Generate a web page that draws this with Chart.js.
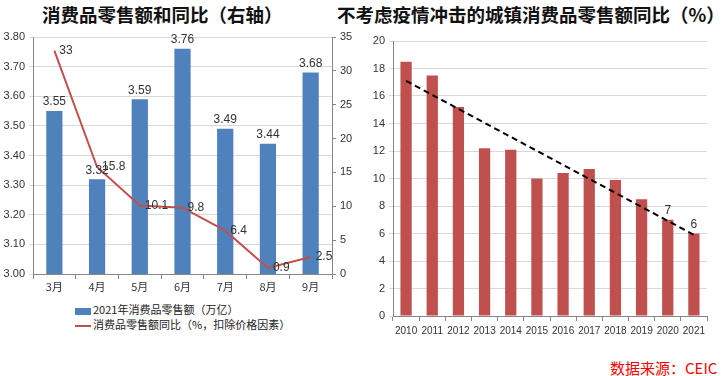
<!DOCTYPE html>
<html>
<head>
<meta charset="utf-8">
<script src="https://cdn.jsdelivr.net/npm/chart.js@4.4.0/dist/chart.umd.min.js"></script>
<style>
  body{margin:0;background:#fff;width:725px;height:376px;overflow:hidden;position:relative;
       font-family:"Liberation Sans","Noto Sans CJK SC",sans-serif;}
  .ttl{position:absolute;top:1px;font-family:"Noto Sans CJK SC",sans-serif;font-weight:bold;font-size:18.5px;color:#111;white-space:nowrap;}
  .box{position:absolute;}
  .leg{position:absolute;left:75px;font-family:"Noto Sans CJK SC",sans-serif;font-size:11px;color:#222;white-space:nowrap;}
  .leg i{display:inline-block;width:16px;vertical-align:middle;margin-right:2px;}
  .src{position:absolute;left:610px;top:357px;font-family:"Noto Sans CJK SC",sans-serif;font-size:15px;color:#ff0000;white-space:nowrap;}
</style>
</head>
<body>
<div class="ttl" style="left:42px">消费品零售额和同比（右轴）</div>
<div class="ttl" style="left:337px">不考虑疫情冲击的城镇消费品零售额同比（%）</div>
<div class="box" style="left:0;top:0;width:360px;height:300px"><canvas id="c1" width="360" height="300"></canvas></div>
<div class="box" style="left:360px;top:0;width:365px;height:340px"><canvas id="c2" width="365" height="340"></canvas></div>
<div class="leg" style="top:301px"><i style="height:7px;background:#4F81BD"></i>2021年消费品零售额（万亿）</div>
<div class="leg" style="top:316px"><i style="height:2px;background:#C0504D"></i>消费品零售额同比（%，扣除价格因素）</div>
<div class="src">数据来源：CEIC</div>
<script>
// 左图：月度消费品零售额（万亿）和同比（%）
const months = ['3月','4月','5月','6月','7月','8月','9月'];
const retail = [3.55, 3.32, 3.59, 3.76, 3.49, 3.44, 3.68];
const retailYoY = [33, 15.8, 10.1, 9.8, 6.4, 0.9, 2.5];

// 右图：城镇消费品零售额同比（%）
const years = ['2010','2011','2012','2013','2014','2015','2016','2017','2018','2019','2020','2021'];
const urbanYoY = [18.5, 17.5, 15.2, 12.2, 12.1, 10.0, 10.4, 10.7, 9.9, 8.5, 7, 6];
const trend = [17.1, null, null, null, null, null, null, null, null, null, null, 5.9];
const urbanLabelled = [false,false,false,false,false,false,false,false,false,false,true,true];

const GRID = '#D9D9D9', AXIS = '#868686', TXT = '#333';
const tickFont = {family:'"Liberation Sans","Noto Sans CJK SC",sans-serif', size:11};

// 数据标签
const valueLabels = {
  id:'valueLabels',
  afterDatasetsDraw(chart){
    const ctx = chart.ctx;
    chart.data.datasets.forEach((ds,i)=>{
      if(!ds.lbl) return;
      const meta = chart.getDatasetMeta(i);
      meta.data.forEach((el,j)=>{
        const v = ds.data[j];
        if(v==null || (ds.lbl.show && !ds.lbl.show[j])) return;
        ctx.save();
        ctx.font = '12px "Liberation Sans",sans-serif';
        ctx.fillStyle = TXT;
        if(ds.lbl.pos==='right'){
          ctx.textAlign='left'; ctx.textBaseline='middle';
          ctx.fillText(ds.lbl.fmt(v), el.x+ds.lbl.dx, el.y);
        } else {
          ctx.textAlign='center'; ctx.textBaseline='bottom';
          ctx.fillText(ds.lbl.fmt(v), el.x, el.y-ds.lbl.dy);
        }
        ctx.restore();
      });
    });
  }
};

new Chart(document.getElementById('c1'),{
  data:{labels:months,datasets:[
    {type:'line',data:retailYoY,yAxisID:'y1',borderColor:'#C0504D',borderWidth:2,pointRadius:0,order:0,
     lbl:{pos:'right',dx:5,fmt:v=>String(v)}},
    {type:'bar',data:retail,yAxisID:'y',backgroundColor:'#4F81BD',categoryPercentage:1,barPercentage:0.38,order:1,
     lbl:{pos:'top',dy:3,fmt:v=>v.toFixed(2)}}
  ]},
  options:{
    responsive:false,animation:false,
    layout:{padding:{top:37,left:0,right:0,bottom:0}},
    plugins:{legend:{display:false},tooltip:{enabled:false}},
    scales:{
      x:{grid:{display:true,offset:true,drawOnChartArea:false,tickLength:5,color:AXIS},border:{color:AXIS},
         ticks:{color:TXT,font:{family:'"Noto Sans CJK SC",sans-serif',size:11},padding:1},
         afterFit:s=>{s.height=26;}},
      y:{position:'left',min:3.0,max:3.8,grid:{color:GRID,tickLength:4},border:{color:AXIS},
         ticks:{stepSize:0.1,color:TXT,font:tickFont,padding:4,callback:v=>v.toFixed(2)},
         afterFit:s=>{s.width=33;}},
      y1:{position:'right',min:0,max:35,grid:{drawOnChartArea:false,color:AXIS,tickLength:4},border:{color:AXIS},
         ticks:{stepSize:5,color:TXT,font:tickFont,padding:4},
         afterFit:s=>{s.width=28;}}
    }
  },
  plugins:[valueLabels]
});

new Chart(document.getElementById('c2'),{
  data:{labels:years,datasets:[
    {type:'line',data:trend,spanGaps:true,borderColor:'#000',borderWidth:2,borderDash:[6,4],pointRadius:0,order:0},
    {type:'bar',data:urbanYoY,backgroundColor:'#C0504D',categoryPercentage:1,barPercentage:0.43,order:1,
     lbl:{pos:'top',dy:3,show:urbanLabelled,fmt:v=>String(v)}}
  ]},
  options:{
    responsive:false,animation:false,
    layout:{padding:{top:41,left:0,right:18,bottom:0}},
    plugins:{legend:{display:false},tooltip:{enabled:false}},
    scales:{
      x:{grid:{display:true,offset:true,drawOnChartArea:false,tickLength:5,color:AXIS},border:{color:AXIS},
         ticks:{color:TXT,font:{family:'"Liberation Sans",sans-serif',size:10},padding:4,maxRotation:0,autoSkip:false},
         afterFit:s=>{s.height=24;}},
      y:{min:0,max:20,grid:{color:GRID,tickLength:4},border:{color:AXIS},
         ticks:{stepSize:2,color:TXT,font:tickFont,padding:4},
         afterFit:s=>{s.width=33;}}
    }
  },
  plugins:[valueLabels]
});
</script>
</body>
</html>
